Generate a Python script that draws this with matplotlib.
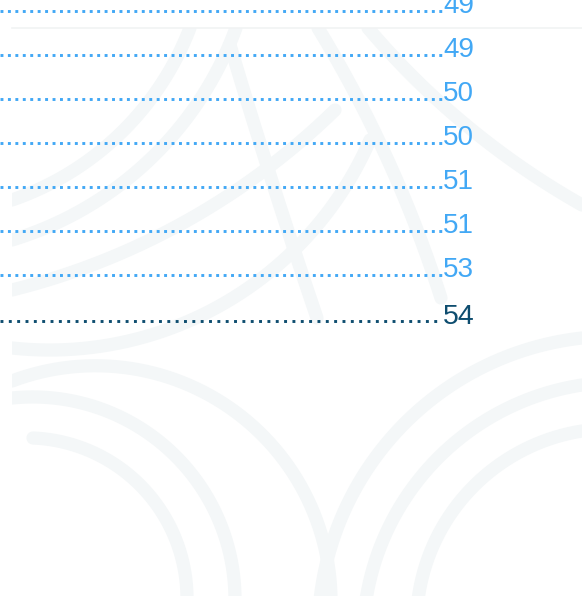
import numpy as np
import matplotlib.pyplot as plt
from matplotlib.patches import Rectangle

# page numbers at the end of each contents line (the titles are cut off on the left)
pages = ["49", "49", "50", "50", "51", "51", "53", "54"]
current = [False, False, False, False, False, False, False, True]

BLUE = "#42a8f5"
NAVY = "#0e4d6f"
PATTERN = "#f4f7f8"

W, H = 582, 596

# faint background ornament: each band is a circular arc through three points
arcs = [
    # lower left fan
    ((33, 438), (120, 468), (187, 600)),
    ((12, 398), (167, 448), (235, 600)),
    ((12, 381), (291, 470), (331, 600)),
    # lower right fan
    ((418, 600), (470, 490), (582, 431)),
    ((366, 600), (438, 458), (582, 385)),
    ((320, 600), (404, 424), (582, 338)),
    # upper left
    ((190, 28), (150, 100), (12, 200)),
    ((236, 28), (167, 142), (12, 240)),
    ((12, 290), (150, 240), (335, 110)),
    ((12, 348), (233, 298), (370, 140)),
    # upper right
    ((230, 45), (270, 175), (317, 318)),
    ((318, 28), (391, 167), (441, 298)),
    ((368, 28), (460, 120), (582, 205)),
]


def circle_from(p1, p2, p3):
    (x1, y1), (x2, y2), (x3, y3) = p1, p2, p3
    a = np.array([[x2 - x1, y2 - y1], [x3 - x2, y3 - y2]], dtype=float) * 2
    b = np.array([x2**2 - x1**2 + y2**2 - y1**2, x3**2 - x2**2 + y3**2 - y2**2], dtype=float)
    cx, cy = np.linalg.solve(a, b)
    return cx, cy, np.hypot(x1 - cx, y1 - cy)


def draw_band(ax, p1, p2, p3, clip):
    cx, cy, r = circle_from(p1, p2, p3)
    a1, a2, a3 = [np.arctan2(p[1] - cy, p[0] - cx) for p in (p1, p2, p3)]
    d2 = (a2 - a1) % (2 * np.pi)
    d3 = (a3 - a1) % (2 * np.pi)
    end = a1 + d3 if d2 < d3 else a1 - (2 * np.pi - d3)
    t = np.linspace(a1, end, 300)
    line, = ax.plot(cx + r * np.cos(t), cy + r * np.sin(t), color=PATTERN,
                    lw=9.5, solid_capstyle="round", zorder=1)
    line.set_clip_path(clip)


fig = plt.figure(figsize=(W / 100, H / 100), dpi=100)
ax = fig.add_axes([0, 0, 1, 1])
ax.set_xlim(0, W)
ax.set_ylim(H, 0)
ax.axis("off")

clip = Rectangle((12, 28), W - 12, H - 28, transform=ax.transData)
for p1, p2, p3 in arcs:
    draw_band(ax, p1, p2, p3, clip)
ax.plot([12, W], [28, 28], color="#f1f3f4", lw=1.2, zorder=1)

# dotted leaders and page numbers
for i, (page, cur) in enumerate(zip(pages, current)):
    y = 10.5 + 44 * i + (2.8 if cur else 0)
    color = NAVY if cur else BLUE
    gap = 1.86 if cur else 1.55
    ax.hlines(y, 0, 441.5, colors=color, linewidth=2.1, linestyles=(0, (1, gap)), zorder=3)
    ax.text(443, y + 2.3, page, fontsize=20.5 if cur else 20, color=color,
            family="Liberation Sans", ha="left", va="baseline", zorder=4)

fig.savefig("out.png", dpi=100)
